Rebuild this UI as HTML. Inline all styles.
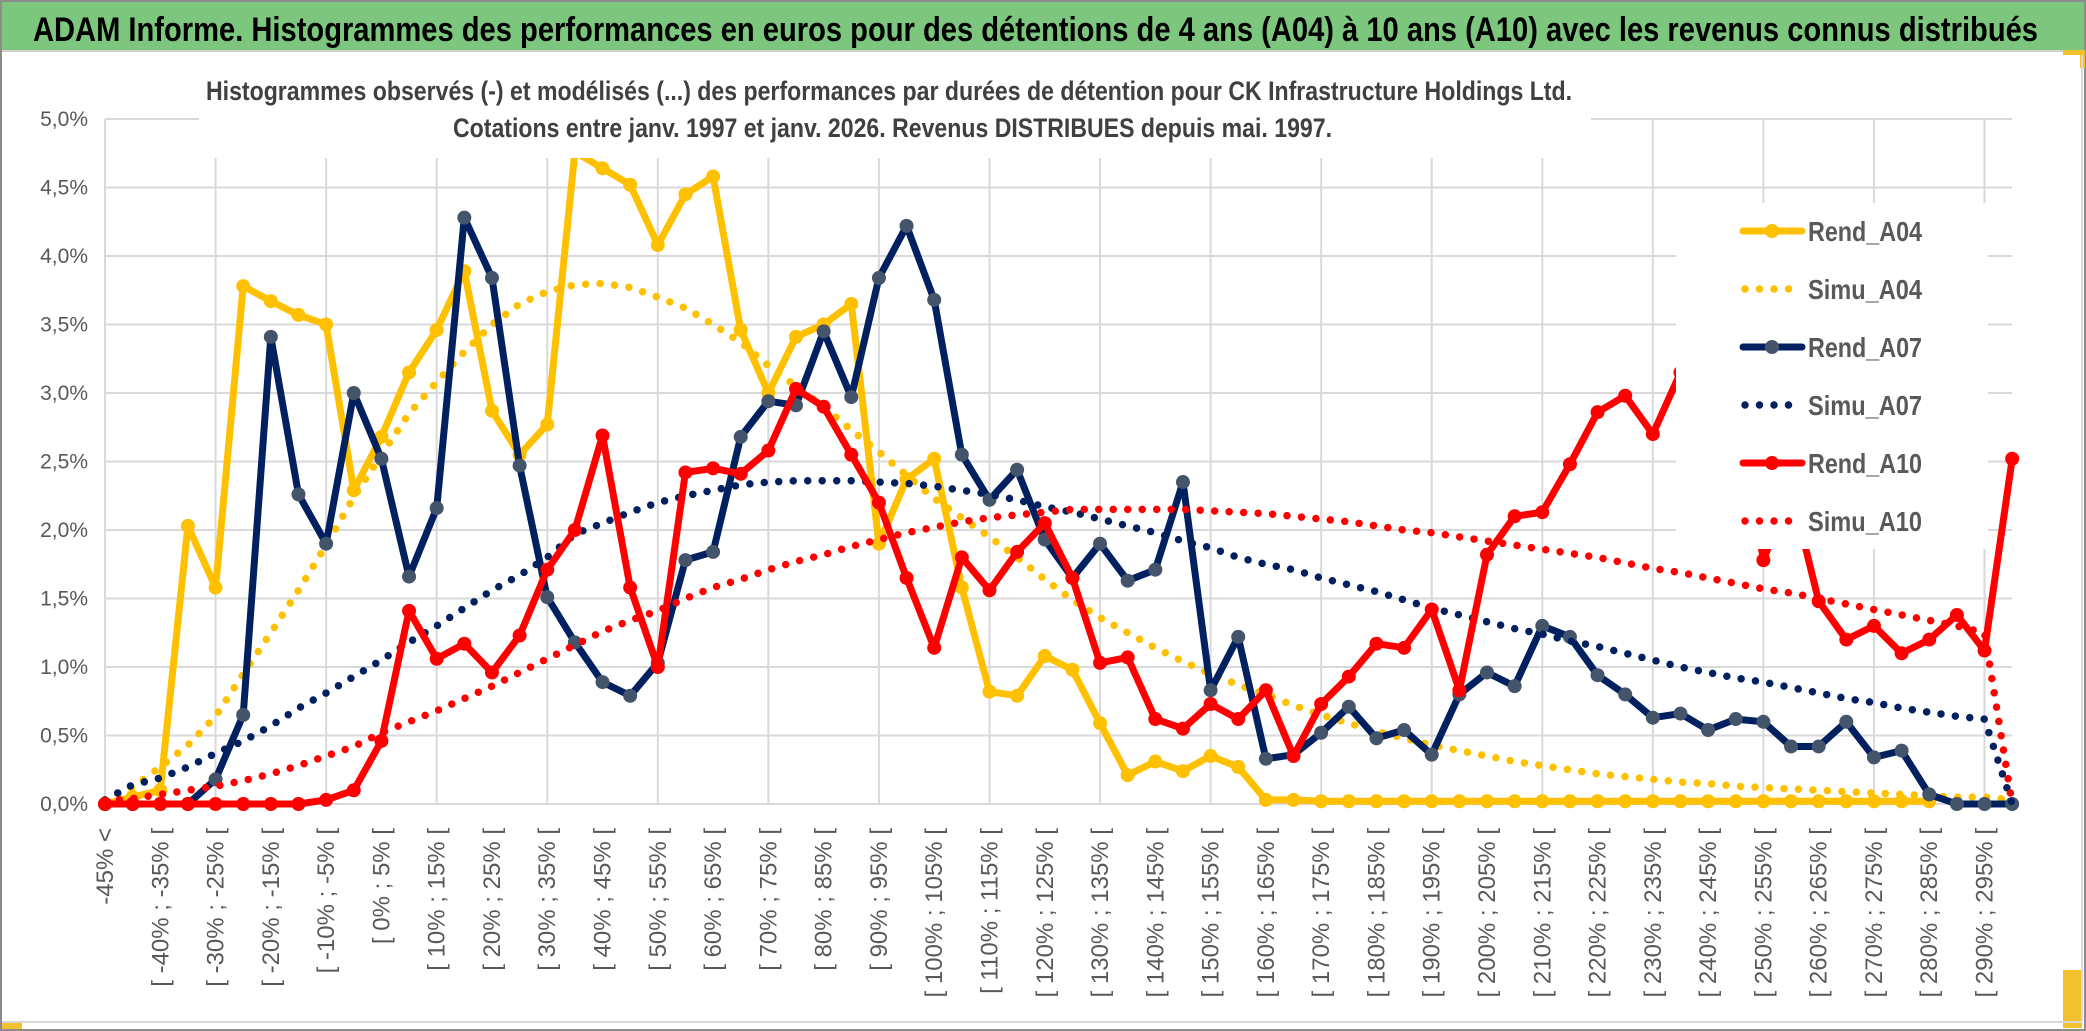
<!DOCTYPE html>
<html><head><meta charset="utf-8"><title>ADAM Informe</title>
<style>
html,body{margin:0;padding:0;background:#fff;}
svg{display:block;font-family:"Liberation Sans",sans-serif;}
</style></head>
<body>
<svg id="chart" width="2086" height="1031" viewBox="0 0 2086 1031" xmlns="http://www.w3.org/2000/svg">
<rect x="0" y="0" width="2086" height="1031" fill="#fff"/>
<rect x="1" y="1" width="2084" height="1029" fill="none" stroke="#8c8c8c" stroke-width="2"/>
<rect x="2" y="2" width="2082" height="48" fill="#7cc67e"/>
<line x1="2" y1="51" x2="2084" y2="51" stroke="#d0d0d0" stroke-width="2"/>
<text x="33" y="41" font-size="34" font-weight="bold" fill="#000" textLength="2005" lengthAdjust="spacingAndGlyphs">ADAM Informe. Histogrammes des performances en euros pour des détentions de 4 ans (A04) à 10 ans (A10) avec les revenus connus distribués</text>
<rect x="2063" y="50" width="21" height="5" fill="#f2c12e"/>
<rect x="2080" y="50" width="5" height="18" fill="#f2c12e"/>
<rect x="2063" y="970" width="19" height="58" fill="#f2c12e"/>
<rect x="2" y="1023" width="20" height="6" fill="#f2c12e"/>
<line x1="2082" y1="55" x2="2082" y2="1022" stroke="#d9d9d9" stroke-width="2"/>
<line x1="2" y1="1022" x2="2082" y2="1022" stroke="#d9d9d9" stroke-width="2"/>
<g id="grid"></g>
<g id="series"></g>
<g id="labels"></g>
<rect x="199" y="58" width="1392" height="100" fill="#fff"/>
<text x="206" y="100" font-size="27" fill="#404040" font-weight="600" textLength="1366" lengthAdjust="spacingAndGlyphs">Histogrammes observés (-) et modélisés (...) des performances par durées de détention pour CK Infrastructure Holdings Ltd.</text>
<text x="453" y="137" font-size="27" fill="#404040" font-weight="600" textLength="879" lengthAdjust="spacingAndGlyphs">Cotations entre janv. 1997 et janv. 2026. Revenus DISTRIBUES depuis mai. 1997.</text>
<g id="legend"></g>
</svg>
<script>
const categories = (function(){const c=["-45% <"];for(let i=1;i<70;i++){const lo=-45+5*(i-1);c.push("[ "+lo+"% ; "+(lo+5)+"% [");}return c;})();
const yTicks = [0,0.5,1,1.5,2,2.5,3,3.5,4,4.5,5];
const yTickLabels = ["0,0%","0,5%","1,0%","1,5%","2,0%","2,5%","3,0%","3,5%","4,0%","4,5%","5,0%"];
const rendA04 = [0,0.05,0.1,2.03,1.58,3.78,3.67,3.57,3.5,2.29,2.68,3.15,3.46,3.89,2.87,2.55,2.77,4.76,4.64,4.52,4.08,4.45,4.58,3.46,3.0,3.41,3.5,3.65,1.9,2.37,2.52,1.58,0.82,0.79,1.08,0.98,0.59,0.21,0.31,0.24,0.35,0.27,0.03,0.03,0.02,0.02,0.02,0.02,0.02,0.02,0.02,0.02,0.02,0.02,0.02,0.02,0.02,0.02,0.02,0.02,0.02,0.02,0.02,0.02,0.02,0.02,0.02,null,null,null];
const simuA04 = [0.03,0.12,0.27,0.43,0.64,0.95,1.25,1.56,1.89,2.24,2.55,2.85,3.08,3.3,3.5,3.65,3.74,3.79,3.8,3.77,3.7,3.62,3.5,3.37,3.2,3.05,2.9,2.73,2.57,2.4,2.23,2.09,1.95,1.8,1.64,1.49,1.36,1.25,1.14,1.04,0.95,0.87,0.8,0.72,0.65,0.59,0.53,0.48,0.43,0.39,0.35,0.31,0.28,0.25,0.22,0.2,0.18,0.16,0.15,0.13,0.12,0.11,0.1,0.09,0.08,0.07,0.06,0.05,0.05,0.03];
const rendA07 = [0,0,0,0,0.18,0.65,3.41,2.26,1.9,3.0,2.52,1.66,2.16,4.28,3.84,2.47,1.51,1.18,0.89,0.79,1.03,1.78,1.84,2.68,2.94,2.91,3.45,2.97,3.84,4.22,3.68,2.55,2.22,2.44,1.93,1.65,1.9,1.63,1.71,2.35,0.83,1.22,0.33,0.36,0.52,0.71,0.48,0.54,0.36,0.8,0.96,0.86,1.3,1.22,0.94,0.8,0.63,0.66,0.54,0.62,0.6,0.42,0.42,0.6,0.34,0.39,0.07,0,0,0];
const simuA07 = [0.03,0.14,0.19,0.27,0.37,0.46,0.57,0.7,0.81,0.93,1.05,1.18,1.3,1.43,1.56,1.67,1.8,1.97,2.05,2.13,2.2,2.25,2.29,2.33,2.35,2.36,2.36,2.36,2.35,2.34,2.32,2.29,2.26,2.22,2.17,2.13,2.08,2.03,1.98,1.92,1.87,1.8,1.75,1.71,1.65,1.6,1.55,1.49,1.43,1.38,1.33,1.28,1.24,1.19,1.15,1.1,1.05,1.0,0.96,0.92,0.89,0.85,0.81,0.77,0.74,0.7,0.67,0.64,0.62,0];
const rendA10 = [0,0,0,0,0,0,0,0,0.03,0.1,0.46,1.41,1.06,1.17,0.96,1.23,1.71,2.0,2.69,1.58,1.0,2.42,2.45,2.41,2.58,3.03,2.9,2.55,2.2,1.65,1.14,1.8,1.56,1.84,2.05,1.65,1.03,1.07,0.62,0.55,0.73,0.62,0.83,0.35,0.73,0.93,1.17,1.14,1.42,0.83,1.82,2.1,2.13,2.48,2.86,2.98,2.7,3.15,3.2,3.0,1.78,2.3,1.48,1.2,1.3,1.1,1.2,1.38,1.12,2.52];
const simuA10 = [0.02,0.04,0.07,0.1,0.13,0.17,0.22,0.28,0.35,0.42,0.52,0.6,0.68,0.77,0.86,0.96,1.06,1.16,1.26,1.34,1.41,1.5,1.58,1.64,1.71,1.77,1.82,1.88,1.93,1.98,2.02,2.06,2.09,2.11,2.13,2.15,2.15,2.15,2.15,2.15,2.14,2.13,2.12,2.1,2.08,2.06,2.03,2.0,1.98,1.95,1.92,1.89,1.86,1.83,1.8,1.76,1.72,1.69,1.65,1.61,1.57,1.54,1.5,1.46,1.42,1.38,1.34,1.3,1.25,0];
const seriesNames = ["Rend_A04","Simu_A04","Rend_A07","Simu_A07","Rend_A10","Simu_A10"];

const NS="http://www.w3.org/2000/svg";
const X0=105, STEP=27.64, Y0=804, PPU=137;
function xs(i){return X0+i*STEP;}
function ys(v){return Y0-v*PPU;}
function mk(tag,attrs,parent){const e=document.createElementNS(NS,tag);for(const k in attrs)e.setAttribute(k,attrs[k]);parent.appendChild(e);return e;}
const grid=document.getElementById('grid'), ser=document.getElementById('series'), lab=document.getElementById('labels'), leg=document.getElementById('legend');
const xEnd=xs(categories.length-1);
yTicks.forEach((t,k)=>{
  const l=mk('line',{x1:X0,x2:xEnd,y1:ys(t),y2:ys(t),stroke:'#d9d9d9','stroke-width':2},grid);
  
  
  const tx=mk('text',{x:88,y:ys(t)+7,'text-anchor':'end','font-size':21,fill:'#595959'},lab);
  tx.textContent=yTickLabels[k];
  
  
});
for(let i=0;i<categories.length;i+=4){
  const l=mk('line',{x1:xs(i),x2:xs(i),y1:ys(5),y2:Y0,stroke:'#d9d9d9','stroke-width':2},grid);
  
  
}
for(let i=0;i<categories.length;i+=2){
  const x=xs(i)+8, y=828;
  const tx=mk('text',{x:x,y:y,transform:'rotate(-90 '+x+' '+y+')','text-anchor':'end','font-size':24,fill:'#595959'},lab);
  tx.textContent=categories[i];
  
  
}
function pathOf(arr){let d='',pen=false;arr.forEach((v,i)=>{if(v===null){pen=false;return;}d+=(pen?'L':'M')+xs(i).toFixed(1)+' '+ys(v).toFixed(1)+' ';pen=true;});return d;}
function solid(arr,color,mcolor,name){
  const g=mk('g',{},ser);
  
  
  const p=mk('path',{d:pathOf(arr),fill:'none',stroke:color,'stroke-width':7,'stroke-linejoin':'round'},g);
  
  
  arr.forEach((v,i)=>{if(v===null)return;
    const c=mk('circle',{cx:xs(i),cy:ys(v),r:7,fill:mcolor},g);
    
    
  });
}
function dotted(arr,color,name){
  const p=mk('path',{d:pathOf(arr),fill:'none',stroke:color,'stroke-width':7.5,'stroke-linecap':'round','stroke-dasharray':'0 14.5'},ser);
  
  
}
solid(rendA04,'#ffc000','#ffc000','rend-a04');
dotted(simuA04,'#ffc000','simu-a04');
solid(rendA07,'#002060','#44546a','rend-a07');
dotted(simuA07,'#002060','simu-a07');
solid(rendA10,'#ff0000','#ff0000','rend-a10');
dotted(simuA10,'#ff0000','simu-a10');
const lb=mk('rect',{x:1676,y:203,width:312,height:346,fill:'#fff'},leg);


const legColors=['#ffc000','#ffc000','#002060','#002060','#ff0000','#ff0000'];
const legMarker=['#ffc000',null,'#44546a',null,'#ff0000',null];
seriesNames.forEach((n,k)=>{
  const y=231+k*58;
  const g=mk('g',{},leg);
  
  
  if(legMarker[k]){
    mk('line',{x1:1743,x2:1802,y1:y,y2:y,stroke:legColors[k],'stroke-width':7,'stroke-linecap':'round'},g);
    mk('circle',{cx:1772,cy:y,r:7,fill:legMarker[k]},g);
  } else {
    mk('line',{x1:1745,x2:1802,y1:y,y2:y,stroke:legColors[k],'stroke-width':7.5,'stroke-linecap':'round','stroke-dasharray':'0 14.5'},g);
  }
  const t=mk('text',{x:1808,y:y+10,'font-size':28,'font-weight':'600',fill:'#595959',textLength:114,lengthAdjust:'spacingAndGlyphs'},g);
  t.textContent=n;
});
</script>
</body></html>
